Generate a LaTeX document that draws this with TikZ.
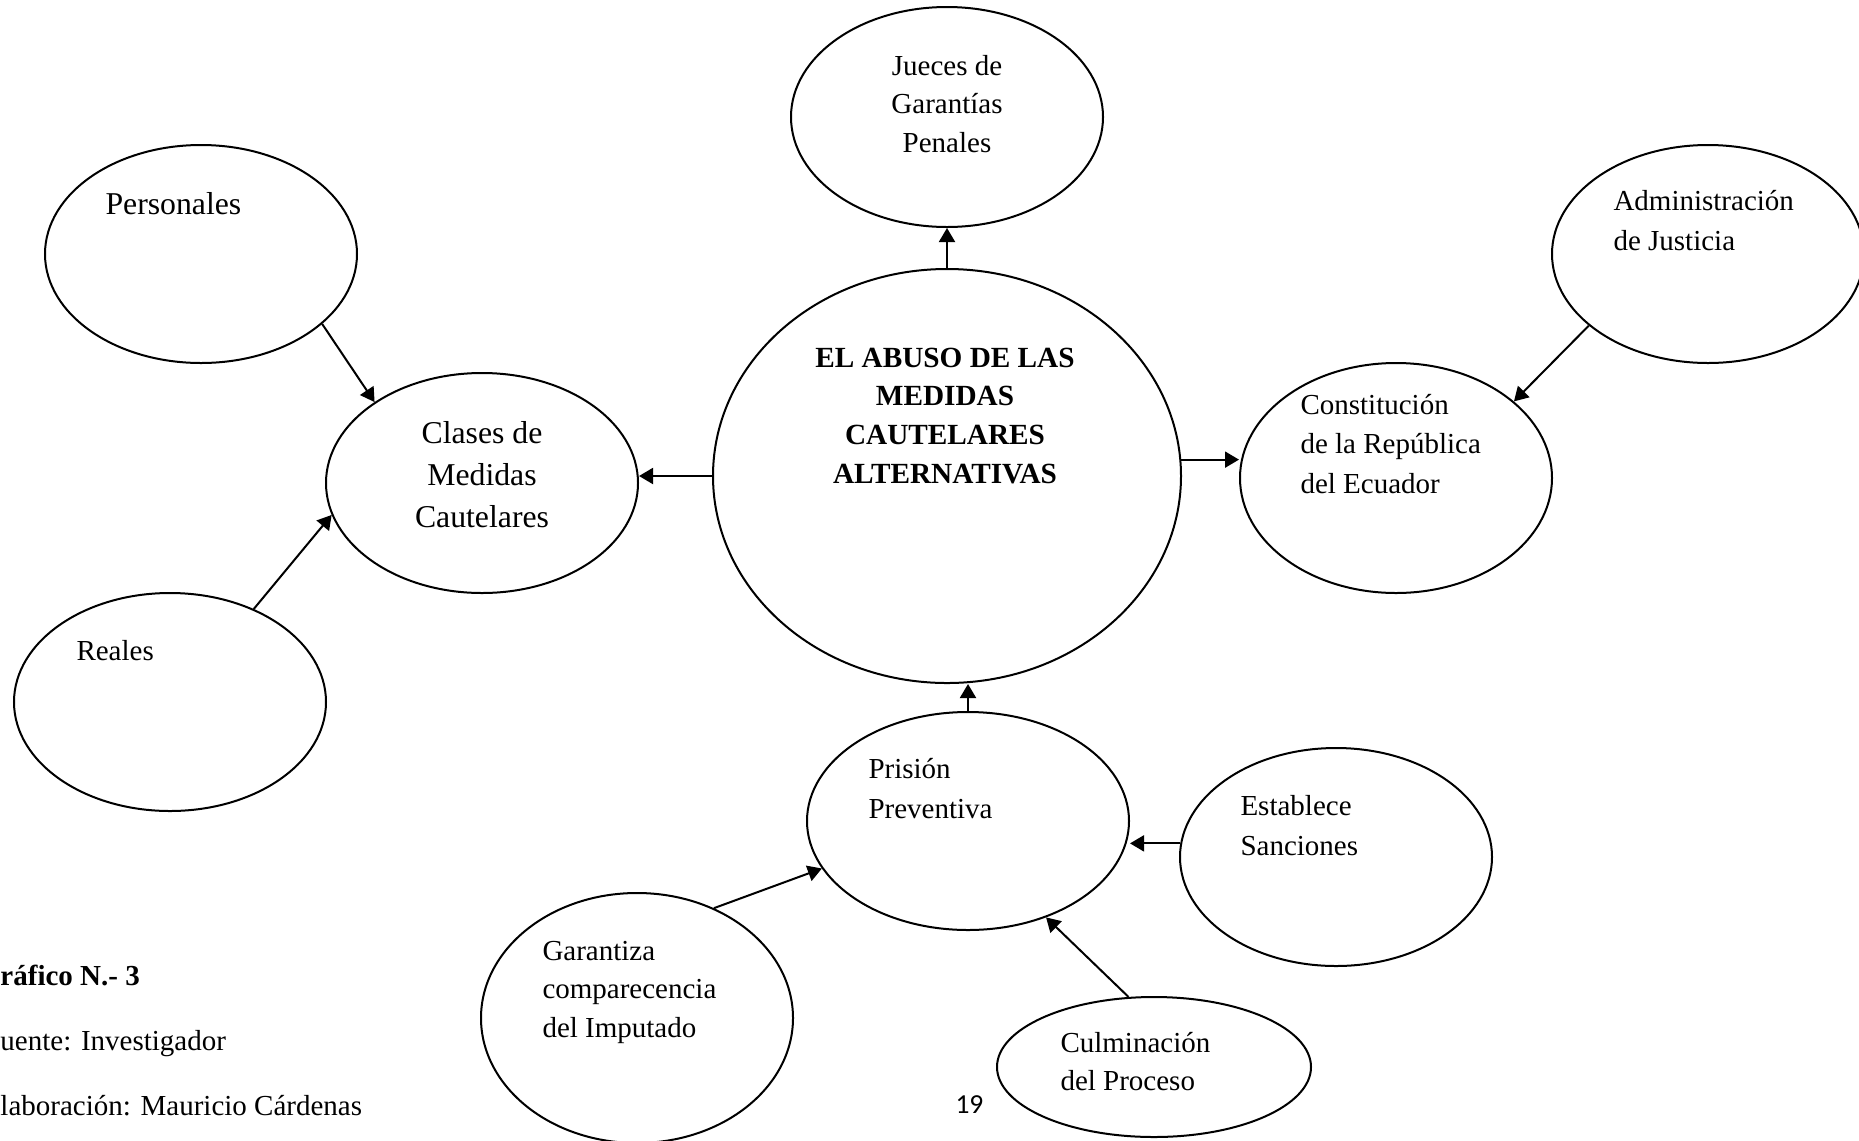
\documentclass[tikz,border=0pt]{standalone}
\usepackage{fontspec}
\setmainfont{Liberation Serif}
\newfontfamily\pagenumfont{Carlito}
\usetikzlibrary{shapes.geometric,arrows.meta}
\newcommand{\linesC}[2]{\vtop{\baselineskip=#1\halign{\hfil##\hfil\cr #2\crcr}}}
\newcommand{\linesL}[2]{\vtop{\baselineskip=#1\halign{##\hfil\cr #2\crcr}}}
\tikzset{
  ell/.style 2 args={draw, ellipse, line width=0.8pt, inner sep=0pt,
    minimum width=#1*0.8pt, minimum height=#2*0.8pt},
  arr/.style={-{Triangle[length=5.6pt,width=6.4pt]}, line width=0.8pt},
  txt/.style={inner sep=0pt, font=\fontsize{11.6}{14}\selectfont},
  bigtxt/.style={inner sep=0pt, font=\fontsize{12.7}{15}\selectfont},
  boldtxt/.style={inner sep=0pt, font=\fontsize{11.7}{14}\selectfont\bfseries},
}
\begin{document}
\begin{tikzpicture}[x=0.4pt,y=-0.4pt]
\useasboundingbox (0,0) rectangle (1859,1140);

% ellipses
\node[ell={156}{110}] (jue) at (947,117) {};
\node[ell={156}{109}] (per) at (201,254) {};
\node[ell={156}{110}] (cla) at (482,483) {};
\node[ell={156}{109}] (rea) at (170,702) {};
\node[ell={234}{207}] (cen) at (947,476) {};
\node[ell={156}{115}] (con) at (1396,478) {};
\node[ell={156}{109}] (adm) at (1708,254) {};
\node[ell={161}{109}] (pri) at (968,821) {};
\node[ell={156}{109}] (est) at (1336,857) {};
\node[ell={157}{70}]  (cul) at (1154,1067) {};
\node[ell={156}{125}] (gar) at (637,1018) {};

% texts
\node[txt, anchor=base] (t-jue) at (947,75) {\linesC{15.4pt}{Jueces de\cr Garantías\cr Penales}};
\node[bigtxt, anchor=base west] (t-per) at (105,214) {Personales};
\node[bigtxt, anchor=base] (t-cla) at (482,443) {\linesC{16.8pt}{Clases de\cr Medidas\cr Cautelares}};
\node[txt, anchor=base west] (t-rea) at (76,660) {Reales};
\node[boldtxt, anchor=base] (t-cen) at (945,367) {\linesC{15.5pt}{EL ABUSO DE LAS\cr MEDIDAS\cr CAUTELARES\cr ALTERNATIVAS}};
\node[txt, anchor=base west] (t-adm) at (1613,210) {\linesL{16pt}{Administración\cr de Justicia}};
\node[txt, anchor=base west] (t-con) at (1300,414) {\linesL{15.8pt}{Constitución\cr de la República\cr del Ecuador}};
\node[txt, anchor=base west] (t-pri) at (868,778) {\linesL{16pt}{Prisión\cr Preventiva}};
\node[txt, anchor=base west] (t-est) at (1240,815) {\linesL{16pt}{Establece\cr Sanciones}};
\node[txt, anchor=base west] (t-cul) at (1060,1052) {\linesL{15.2pt}{Culminación\cr del Proceso}};
\node[txt, anchor=base west] (t-gar) at (542,960) {\linesL{15.4pt}{Garantiza\cr comparecencia\cr del Imputado}};

% footer
\node[txt, anchor=base west, font=\fontsize{11.6}{14}\selectfont\bfseries] (f1) at (0,985) {ráfico N.- 3};
\node[txt, anchor=base west] (f2) at (0,1050) {uente: Investigador};
\node[txt, anchor=base west] (f3) at (0,1115) {laboración: Mauricio Cárdenas};
\node[inner sep=0pt, anchor=base west, font=\pagenumfont\fontsize{11}{13}\selectfont] (pg) at (955,1113) {19};

% connectors
\draw[arr] (cen.north) -- (jue.south);
\draw[arr] (cen.west) -- (cen.west -| cla.east);
\draw[arr] (cen.4) -- (cen.4 -| con.west);
\draw[arr] (pri.north) -- (pri.north |- cen.south);
\draw[arr] (per.-30) -- (cla.143);
\draw[arr] (rea.48) -- (cla.192);
\draw[arr] (adm.211) -- (con.33);
\draw[arr] (est.175) -- (est.175 -| pri.east);
\draw[arr] (cul.110) -- (pri.-51);
\draw[arr] (gar.55) -- (pri.198);
\end{tikzpicture}
\end{document}
